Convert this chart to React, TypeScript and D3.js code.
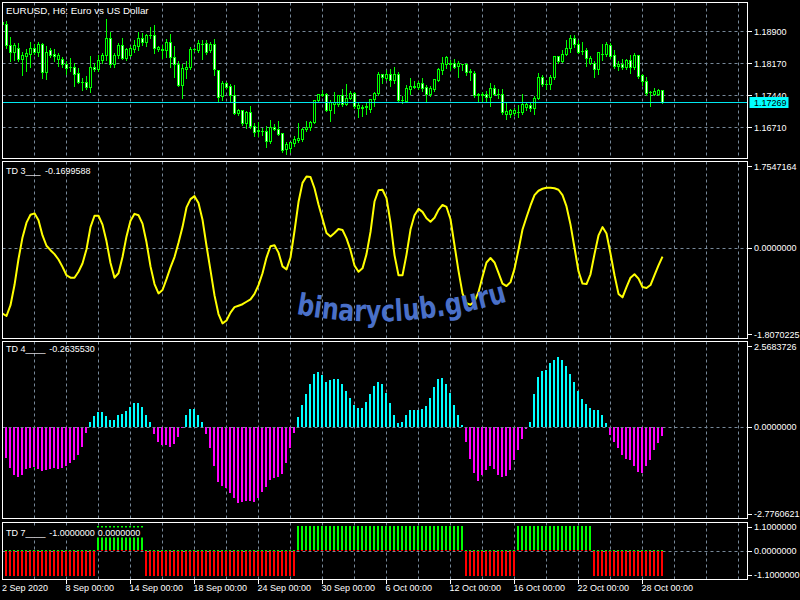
import React from "react";
import * as d3 from "d3";

// ---------- data ----------
const title = "EURUSD, H6: Euro vs US Dollar";
const timeLabels = ["2 Sep 2020", "8 Sep 00:00", "14 Sep 00:00", "18 Sep 00:00", "24 Sep 00:00", "30 Sep 00:00", "6 Oct 00:00", "12 Oct 00:00", "16 Oct 00:00", "22 Oct 00:00", "28 Oct 00:00"];
const timeLabelBars = [0, 16, 32, 48, 64, 80, 96, 112, 128, 144, 160];
const priceTicks = [1.189, 1.1817, 1.1744, 1.1671];
const priceTickLabels = ["1.18900", "1.18170", "1.17440", "1.16710"];
const lastPrice = 1.17269;

const openP = [
  1.1907, 1.1907, 1.1858, 1.1841, 1.1852, 1.1827, 1.1833, 1.1838, 1.1852, 1.1843,
  1.1860, 1.1797, 1.1847, 1.1837, 1.1827, 1.1827, 1.1815, 1.1809, 1.1809, 1.1795,
  1.1774, 1.1774, 1.1762, 1.1809, 1.1804, 1.1824, 1.1835, 1.1875, 1.1814, 1.1835,
  1.1857, 1.1829, 1.1835, 1.1848, 1.1856, 1.1873, 1.1865, 1.1881, 1.1882, 1.1850,
  1.1848, 1.1846, 1.1866, 1.1831, 1.1815, 1.1767, 1.1804, 1.1809, 1.1848, 1.1847,
  1.1860, 1.1862, 1.1846, 1.1860, 1.1801, 1.1742, 1.1771, 1.1765, 1.1744, 1.1702,
  1.1709, 1.1680, 1.1706, 1.1673, 1.1662, 1.1661, 1.1661, 1.1638, 1.1670, 1.1667,
  1.1657, 1.1620, 1.1622, 1.1635, 1.1641, 1.1643, 1.1666, 1.1672, 1.1683, 1.1732,
  1.1745, 1.1747, 1.1710, 1.1723, 1.1723, 1.1744, 1.1724, 1.1738, 1.1749, 1.1715,
  1.1715, 1.1717, 1.1713, 1.1734, 1.1748, 1.1791, 1.1782, 1.1793, 1.1778, 1.1793,
  1.1732, 1.1730, 1.1758, 1.1763, 1.1762, 1.1772, 1.1762, 1.1746, 1.1758, 1.1778,
  1.1801, 1.1815, 1.1815, 1.1818, 1.1810, 1.1814, 1.1814, 1.1797, 1.1795, 1.1745,
  1.1745, 1.1746, 1.1740, 1.1759, 1.1746, 1.1746, 1.1701, 1.1700, 1.1702, 1.1705,
  1.1705, 1.1717, 1.1721, 1.1715, 1.1738, 1.1784, 1.1769, 1.1768, 1.1784, 1.1832,
  1.1822, 1.1838, 1.1852, 1.1875, 1.1860, 1.1844, 1.1846, 1.1818, 1.1818, 1.1804,
  1.1837, 1.1837, 1.1857, 1.1835, 1.1810, 1.1815, 1.1809, 1.1823, 1.1808, 1.1835,
  1.1789, 1.1777, 1.1750, 1.1746, 1.1747, 1.1755,
];
const highP = [
  1.1913, 1.1914, 1.1878, 1.1864, 1.1863, 1.1844, 1.1850, 1.1866, 1.1861, 1.1866,
  1.1863, 1.1856, 1.1852, 1.1850, 1.1842, 1.1831, 1.1823, 1.1829, 1.1819, 1.1806,
  1.1784, 1.1789, 1.1835, 1.1818, 1.1837, 1.1841, 1.1919, 1.1890, 1.1842, 1.1863,
  1.1876, 1.1852, 1.1857, 1.1871, 1.1890, 1.1886, 1.1884, 1.1901, 1.1904, 1.1856,
  1.1860, 1.1873, 1.1885, 1.1857, 1.1822, 1.1815, 1.1822, 1.1854, 1.1852, 1.1871,
  1.1871, 1.1871, 1.1865, 1.1873, 1.1803, 1.1776, 1.1775, 1.1771, 1.1768, 1.1713,
  1.1711, 1.1708, 1.1721, 1.1681, 1.1683, 1.1670, 1.1675, 1.1689, 1.1679, 1.1685,
  1.1658, 1.1639, 1.1639, 1.1651, 1.1681, 1.1671, 1.1686, 1.1686, 1.1734, 1.1747,
  1.1757, 1.1749, 1.1734, 1.1752, 1.1746, 1.1759, 1.1771, 1.1755, 1.1752, 1.1728,
  1.1723, 1.1727, 1.1736, 1.1753, 1.1797, 1.1793, 1.1803, 1.1804, 1.1810, 1.1797,
  1.1742, 1.1768, 1.1785, 1.1778, 1.1776, 1.1785, 1.1768, 1.1765, 1.1781, 1.1806,
  1.1831, 1.1833, 1.1825, 1.1827, 1.1822, 1.1816, 1.1819, 1.1804, 1.1799, 1.1749,
  1.1753, 1.1755, 1.1772, 1.1767, 1.1759, 1.1759, 1.1727, 1.1714, 1.1715, 1.1723,
  1.1747, 1.1729, 1.1728, 1.1743, 1.1795, 1.1790, 1.1780, 1.1791, 1.1833, 1.1835,
  1.1847, 1.1871, 1.1882, 1.1882, 1.1871, 1.1867, 1.1852, 1.1833, 1.1822, 1.1843,
  1.1861, 1.1867, 1.1863, 1.1848, 1.1822, 1.1827, 1.1827, 1.1837, 1.1841, 1.1837,
  1.1793, 1.1787, 1.1755, 1.1761, 1.1759, 1.1757,
];
const lowP = [
  1.1905, 1.1852, 1.1822, 1.1825, 1.1822, 1.1790, 1.1800, 1.1810, 1.1838, 1.1833,
  1.1785, 1.1781, 1.1831, 1.1823, 1.1812, 1.1810, 1.1793, 1.1800, 1.1765, 1.1772,
  1.1757, 1.1759, 1.1753, 1.1799, 1.1800, 1.1818, 1.1825, 1.1810, 1.1808, 1.1829,
  1.1828, 1.1825, 1.1833, 1.1844, 1.1848, 1.1860, 1.1858, 1.1876, 1.1841, 1.1846,
  1.1829, 1.1831, 1.1810, 1.1787, 1.1765, 1.1738, 1.1784, 1.1805, 1.1846, 1.1843,
  1.1827, 1.1838, 1.1843, 1.1791, 1.1730, 1.1733, 1.1761, 1.1730, 1.1702, 1.1700,
  1.1677, 1.1671, 1.1671, 1.1651, 1.1651, 1.1653, 1.1626, 1.1635, 1.1666, 1.1653,
  1.1616, 1.1611, 1.1616, 1.1628, 1.1639, 1.1641, 1.1662, 1.1666, 1.1681, 1.1729,
  1.1742, 1.1708, 1.1685, 1.1705, 1.1719, 1.1721, 1.1723, 1.1736, 1.1715, 1.1696,
  1.1698, 1.1701, 1.1706, 1.1719, 1.1746, 1.1772, 1.1780, 1.1765, 1.1772, 1.1732,
  1.1727, 1.1729, 1.1748, 1.1761, 1.1759, 1.1755, 1.1732, 1.1742, 1.1755, 1.1776,
  1.1793, 1.1806, 1.1803, 1.1806, 1.1787, 1.1803, 1.1790, 1.1780, 1.1740, 1.1729,
  1.1732, 1.1732, 1.1719, 1.1744, 1.1738, 1.1702, 1.1690, 1.1694, 1.1700, 1.1695,
  1.1702, 1.1711, 1.1708, 1.1702, 1.1737, 1.1765, 1.1759, 1.1759, 1.1781, 1.1818,
  1.1820, 1.1837, 1.1843, 1.1854, 1.1841, 1.1838, 1.1812, 1.1815, 1.1787, 1.1793,
  1.1825, 1.1835, 1.1829, 1.1806, 1.1803, 1.1805, 1.1805, 1.1795, 1.1805, 1.1784,
  1.1768, 1.1746, 1.1719, 1.1744, 1.1746, 1.1726,
];
const closeP = [
  1.1911, 1.1858, 1.1841, 1.1857, 1.1827, 1.1835, 1.1839, 1.1852, 1.1842, 1.1860,
  1.1797, 1.1841, 1.1835, 1.1833, 1.1835, 1.1815, 1.1806, 1.1807, 1.1793, 1.1774,
  1.1773, 1.1762, 1.1809, 1.1804, 1.1824, 1.1835, 1.1875, 1.1814, 1.1835, 1.1857,
  1.1829, 1.1848, 1.1852, 1.1857, 1.1873, 1.1865, 1.1882, 1.1882, 1.1852, 1.1853,
  1.1847, 1.1866, 1.1831, 1.1814, 1.1767, 1.1805, 1.1809, 1.1848, 1.1849, 1.1862,
  1.1861, 1.1842, 1.1860, 1.1803, 1.1740, 1.1772, 1.1763, 1.1744, 1.1704, 1.1709,
  1.1680, 1.1706, 1.1673, 1.1660, 1.1664, 1.1663, 1.1639, 1.1671, 1.1667, 1.1656,
  1.1619, 1.1632, 1.1637, 1.1643, 1.1645, 1.1666, 1.1672, 1.1683, 1.1732, 1.1746,
  1.1746, 1.1710, 1.1729, 1.1728, 1.1744, 1.1724, 1.1738, 1.1748, 1.1719, 1.1721,
  1.1717, 1.1719, 1.1734, 1.1749, 1.1791, 1.1784, 1.1793, 1.1778, 1.1793, 1.1733,
  1.1733, 1.1759, 1.1765, 1.1765, 1.1772, 1.1759, 1.1746, 1.1759, 1.1780, 1.1803,
  1.1818, 1.1831, 1.1817, 1.1809, 1.1816, 1.1815, 1.1797, 1.1799, 1.1744, 1.1746,
  1.1746, 1.1740, 1.1759, 1.1746, 1.1747, 1.1705, 1.1708, 1.1709, 1.1709, 1.1706,
  1.1723, 1.1723, 1.1715, 1.1738, 1.1784, 1.1768, 1.1770, 1.1784, 1.1832, 1.1822,
  1.1838, 1.1852, 1.1875, 1.1860, 1.1843, 1.1845, 1.1828, 1.1829, 1.1804, 1.1841,
  1.1838, 1.1861, 1.1832, 1.1810, 1.1815, 1.1809, 1.1823, 1.1808, 1.1835, 1.1787,
  1.1776, 1.1748, 1.1751, 1.1752, 1.1755, 1.17269,
];

const td3 = [
  -1.33, -1.38, -1.16, -0.75, -0.22, 0.22, 0.52, 0.68, 0.71, 0.57,
  0.26, 0.05, -0.04, -0.12, -0.23, -0.38, -0.55, -0.6, -0.6, -0.48,
  -0.31, -0.02, 0.43, 0.66, 0.66, 0.48, 0.14, -0.3, -0.6, -0.51,
  -0.18, 0.24, 0.56, 0.7, 0.67, 0.5, 0.12, -0.37, -0.73, -0.92,
  -0.85, -0.63, -0.39, -0.18, 0.11, 0.43, 0.83, 1.0, 1.06, 0.92,
  0.58, 0.05, -0.45, -0.96, -1.34, -1.53, -1.47, -1.31, -1.2, -1.17,
  -1.14, -1.09, -1.04, -0.93, -0.75, -0.51, -0.19, 0.04, 0.06, -0.09,
  -0.37, -0.43, -0.19, 0.35, 0.94, 1.33, 1.46, 1.45, 1.22, 0.89,
  0.6, 0.31, 0.24, 0.31, 0.39, 0.37, 0.2, -0.04, -0.35, -0.48,
  -0.41, -0.12, 0.33, 0.95, 1.18, 1.19, 1.02, 0.52, -0.14, -0.55,
  -0.55, -0.13, 0.38, 0.67, 0.8, 0.74, 0.61, 0.54, 0.62, 0.78,
  0.88, 0.84, 0.59, 0.06, -0.46, -0.92, -1.12, -1.15, -1.08, -0.89,
  -0.58, -0.29, -0.2, -0.29, -0.5, -0.72, -0.77, -0.69, -0.42, -0.03,
  0.38, 0.63, 0.87, 1.08, 1.17, 1.21, 1.23, 1.23, 1.22, 1.19,
  1.08, 0.85, 0.48, 0.01, -0.47, -0.72, -0.73, -0.53, -0.12, 0.26,
  0.43, 0.3, -0.11, -0.55, -0.93, -1.0, -0.79, -0.6, -0.53, -0.62,
  -0.79, -0.81, -0.75, -0.55, -0.35, -0.1699588,
];
const td3Range = [-1.8070225, 1.7547164];
const td3Labels = ["1.7547164", "0.0000000", "-1.8070225"];

const td4 = [
  -0.78, -0.93, -1.25, -1.44, -1.52, -1.44, -1.27, -1.25, -1.2, -1.27,
  -1.34, -1.29, -1.27, -1.23, -1.27, -1.24, -1.18, -1.09, -1.0, -0.85,
  -0.61, -0.18, 0.16, 0.34, 0.44, 0.46, 0.34, 0.22, 0.22, 0.37,
  0.4, 0.47, 0.62, 0.72, 0.72, 0.6, 0.37, 0.16, -0.21, -0.46,
  -0.55, -0.53, -0.6, -0.5, -0.31, -0.02, 0.37, 0.55, 0.55, 0.37,
  0.14, -0.2, -0.63, -1.17, -1.65, -1.77, -1.84, -2.0, -2.15, -2.3,
  -2.25, -2.22, -2.24, -2.25, -2.15, -1.97, -1.8, -1.61, -1.55, -1.52,
  -1.42, -1.09, -0.63, -0.18, 0.29, 0.67, 1.01, 1.31, 1.61, 1.66,
  1.56, 1.36, 1.41, 1.46, 1.44, 1.31, 1.08, 0.88, 0.67, 0.59,
  0.59, 0.77, 1.01, 1.24, 1.36, 1.31, 1.04, 0.72, 0.37, 0.12,
  0.14, 0.37, 0.52, 0.52, 0.52, 0.54, 0.64, 0.89, 1.21, 1.44,
  1.48, 1.31, 1.04, 0.67, 0.37, 0.05, -0.46, -0.96, -1.4, -1.62,
  -1.45, -1.29, -1.17, -1.27, -1.44, -1.52, -1.47, -1.29, -1.0, -0.7,
  -0.36, -0.06, 0.14, 0.99, 1.51, 1.68, 1.73, 1.93, 2.01, 2.13,
  2.01, 1.83, 1.61, 1.36, 1.08, 0.85, 0.69, 0.59, 0.52, 0.52,
  0.37, 0.12, -0.25, -0.46, -0.63, -0.83, -0.95, -1.0, -1.17, -1.35,
  -1.4, -1.17, -0.98, -0.7, -0.48, -0.263553,
];
const td4Range = [-2.7760621, 2.5683726];
const td4Labels = ["2.5683726", "0.0000000", "-2.7760621"];

const td7 = [
  -1, -1, -1, -1, -1, -1, -1, -1, -1, -1,
  -1, -1, -1, -1, -1, -1, -1, -1, -1, -1,
  -1, -1, -1, -1, 1, 1, 1, 1, 1, 1,
  1, 1, 1, 1, 1, 1, -1, -1, -1, -1,
  -1, -1, -1, -1, -1, -1, -1, -1, -1, -1,
  -1, -1, -1, -1, -1, -1, -1, -1, -1, -1,
  -1, -1, -1, -1, -1, -1, -1, -1, -1, -1,
  -1, -1, -1, -1, 1, 1, 1, 1, 1, 1,
  1, 1, 1, 1, 1, 1, 1, 1, 1, 1,
  1, 1, 1, 1, 1, 1, 1, 1, 1, 1,
  1, 1, 1, 1, 1, 1, 1, 1, 1, 1,
  1, 1, 1, 1, 1, 1, -1, -1, -1, -1,
  -1, -1, -1, -1, -1, -1, -1, -1, -1, 1,
  1, 1, 1, 1, 1, 1, 1, 1, 1, 1,
  1, 1, 1, 1, 1, 1, 1, 1, -1, -1,
  -1, -1, -1, -1, -1, -1, -1, -1, -1, -1,
  -1, -1, -1, -1, -1, -1,
];
const td7Range = [-1.1, 1.1];
const td7Labels = ["1.1000000", "0.0000000", "-1.1000000"];

// ---------- layout ----------
const FRAME_L = 2.5;
const FRAME_R = 747.5;
const P1 = { top: 2.5, bottom: 158.5 };
const P2 = { top: 161.5, bottom: 338.5 };
const P3 = { top: 341.5, bottom: 518.5 };
const P4 = { top: 522.5, bottom: 579.5 };

const GRID = "#778899";
const FONT = "'Liberation Sans', Arial, sans-serif";
const crisp = (v: number) => Math.floor(v) + 0.5;

const x = d3.scaleLinear().domain([0, 186.25]).range([2.5, 747.5]);
const yPrice = d3.scaleLinear().domain([1.1671, 1.189]).range([127.5, 31.5]);
const yTd3 = d3.scaleLinear().domain(td3Range).range([337, 162]);
const yTd4 = d3.scaleLinear().domain(td4Range).range([519, 342]);
const yTd7 = d3.scaleLinear().domain(td7Range).range([579, 523.5]);

function VGrid({ top, bottom }: { top: number; bottom: number }) {
  const lines: number[] = [];
  for (let k = 8; x(k) < FRAME_R - 2; k += 8) lines.push(x(k));
  return (
    <g>
      {lines.map((lx, i) => (
        <line key={i} x1={crisp(lx)} x2={crisp(lx)} y1={top} y2={bottom} stroke={GRID} strokeDasharray="3 3" />
      ))}
    </g>
  );
}

function HLine({ y }: { y: number }) {
  return <line x1={FRAME_L} x2={FRAME_R} y1={crisp(y)} y2={crisp(y)} stroke={GRID} strokeDasharray="3 3" />;
}

function AxisLabel({ y, text, ty }: { y: number; text: string; ty?: number }) {
  return (
    <g>
      <line x1={748} x2={752} y1={crisp(y)} y2={crisp(y)} stroke="#fff" />
      <text x={754} y={ty ?? y} dominantBaseline="central" fill="#fff">{text}</text>
    </g>
  );
}

export default function App() {
  const n = closeP.length;
  const bars = d3.range(n);

  const td3Line = d3
    .line<number>()
    .x((i) => x(i))
    .y((i) => yTd3(td3[i]))(bars);

  const zero4 = Math.round(yTd4(0));
  const zero7 = Math.round(yTd7(0));
  const lastY = crisp(yPrice(lastPrice));

  const wmPath = "M 296 314 Q 400 334 512 300";

  return (
    <svg
      width={800}
      height={600}
      style={{ position: "absolute", left: 0, top: 0, display: "block" }}
      fontFamily={FONT}
      fontSize={9}
    >
      <defs>
        <clipPath id="c1"><rect x={3} y={3} width={744} height={155} /></clipPath>
        <clipPath id="c2"><rect x={3} y={162} width={744} height={176} /></clipPath>
        <clipPath id="c3"><rect x={3} y={342} width={744} height={176} /></clipPath>
        <clipPath id="c4"><rect x={3} y={523} width={744} height={56} /></clipPath>
        <path id="wm" d={wmPath} />
      </defs>
      <rect x={0} y={0} width={800} height={600} fill="#000" />

      {/* ---------- panel 1 : candles ---------- */}
      <VGrid top={P1.top} bottom={P1.bottom} />
      {priceTicks.map((p, i) => <HLine key={i} y={yPrice(p)} />)}
      <g clipPath="url(#c1)">
        {bars.map((i) => {
          const cx = x(i);
          const o = yPrice(openP[i]);
          const c = yPrice(closeP[i]);
          const h = yPrice(highP[i]);
          const l = yPrice(lowP[i]);
          const bear = closeP[i] < openP[i];
          const t = crisp(Math.min(o, c));
          const b = crisp(Math.max(o, c));
          return (
            <g key={i}>
              <line x1={cx} x2={cx} y1={Math.round(h)} y2={Math.round(l) + 1} stroke="#00ff00" />
              {b - t < 1 ? (
                <line x1={cx - 1.5} x2={cx + 1.5} y1={t} y2={t} stroke="#00ff00" />
              ) : (
                <rect x={cx - 1} y={t} width={2} height={b - t} fill={bear ? "#ffffff" : "#000000"} stroke="#00ff00" />
              )}
            </g>
          );
        })}
      </g>
      <line x1={FRAME_L} x2={FRAME_R} y1={lastY} y2={lastY} stroke="#00e8f0" />
      <text x={6} y={10} dominantBaseline="central" fill="#fff" fontSize={9.8}>{title}</text>
      {priceTicks.map((p, i) => <AxisLabel key={i} y={yPrice(p)} text={priceTickLabels[i]} />)}
      <rect x={749.5} y={lastY - 5.5} width={39} height={11} fill="#00ffff" />
      <text x={754} y={lastY} dominantBaseline="central" fill="#000">{lastPrice.toFixed(5)}</text>

      {/* ---------- panel 2 : TD 3 line ---------- */}
      <VGrid top={P2.top} bottom={P2.bottom} />
      <HLine y={yTd3(0)} />
      <g clipPath="url(#c2)">
        <path d={td3Line ?? ""} fill="none" stroke="#ffff00" strokeWidth={2} strokeLinejoin="round" />
      </g>
      <text x={6} y={170.7} dominantBaseline="central" fill="#fff">TD 3___</text>
      <text x={45} y={170.7} dominantBaseline="central" fill="#fff">{td3[n - 1].toFixed(7)}</text>
      <AxisLabel y={166.7} text={td3Labels[0]} />
      <AxisLabel y={yTd3(0)} text={td3Labels[1]} />
      <AxisLabel y={334.5} text={td3Labels[2]} />

      {/* ---------- panel 3 : TD 4 histogram ---------- */}
      <VGrid top={P3.top} bottom={P3.bottom} />
      <g clipPath="url(#c3)">
        {bars.map((i) => {
          const v = td4[i];
          const yv = Math.round(yTd4(v));
          const top = Math.min(yv, zero4);
          const hgt = Math.max(1, Math.abs(yv - zero4));
          return (
            <rect key={i} x={x(i) - 1.5} y={top} width={2} height={hgt} fill={v >= 0 ? "#00ffff" : "#ff00ff"} />
          );
        })}
      </g>
      <HLine y={yTd4(0)} />
      <text x={6} y={349.3} dominantBaseline="central" fill="#fff">TD 4____</text>
      <text x={49.3} y={349.3} dominantBaseline="central" fill="#fff">{td4[n - 1].toFixed(7)}</text>
      <AxisLabel y={346.7} text={td4Labels[0]} />
      <AxisLabel y={yTd4(0)} text={td4Labels[1]} />
      <AxisLabel y={514.3} text={td4Labels[2]} />

      {/* ---------- panel 4 : TD 7 histogram ---------- */}
      <VGrid top={P4.top} bottom={P4.bottom} />
      <HLine y={yTd7(0)} />
      <g clipPath="url(#c4)">
        {bars.map((i) => {
          const v = td7[i];
          const yv = Math.round(yTd7(v));
          const top = Math.min(yv, zero7);
          const hgt = Math.abs(yv - zero7);
          return (
            <g key={i}>
              <rect x={x(i) - 1.5} y={top} width={2} height={hgt} fill={v > 0 ? "#00ff00" : "#ff0000"} />
              <rect x={x(i) - 1.5} y={v > 0 ? zero7 - 1 : zero7 - 1} width={2} height={1} fill={v > 0 ? "#ff0000" : "#00ff00"} />
            </g>
          );
        })}
      </g>
      <rect x={4} y={527.5} width={139} height={10} fill="#000" />
      <text x={6} y={533.3} dominantBaseline="central" fill="#fff">TD 7____</text>
      <text x={49.3} y={533.3} dominantBaseline="central" fill="#fff">{(-1).toFixed(7)}</text>
      <text x={97.7} y={533.3} dominantBaseline="central" fill="#fff">{(0).toFixed(7)}</text>
      <AxisLabel y={527.3} text={td7Labels[0]} />
      <AxisLabel y={yTd7(0)} text={td7Labels[1]} />
      <AxisLabel y={575} text={td7Labels[2]} />

      {/* ---------- frames ---------- */}
      {[P1, P2, P3, P4].map((p, i) => (
        <rect key={i} x={FRAME_L} y={p.top} width={FRAME_R - FRAME_L} height={p.bottom - p.top} fill="none" stroke="#fff" />
      ))}

      {/* ---------- time axis ---------- */}
      {timeLabelBars.map((b, i) => (
        <g key={i}>
          {b > 0 && <line x1={crisp(x(b))} x2={crisp(x(b))} y1={580} y2={584} stroke="#fff" />}
          <text x={b > 0 ? x(b) - 1 : 2} y={588} dominantBaseline="central" fill="#fff">{timeLabels[i]}</text>
        </g>
      ))}

      {/* ---------- watermark ---------- */}
      <text fill="#4a70c8" fontFamily="'DejaVu Sans', sans-serif" fontWeight="bold" fontSize={30}>
        <textPath href="#wm" textLength={214} lengthAdjust="spacingAndGlyphs">binaryclub.guru</textPath>
      </text>
    </svg>
  );
}
